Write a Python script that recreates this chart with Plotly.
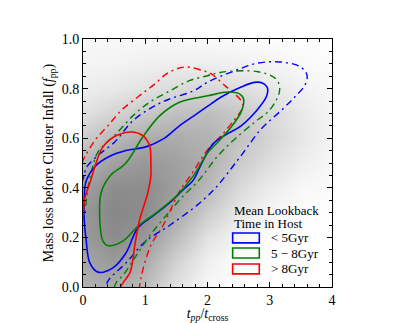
import plotly.graph_objects as go

# fond : densité en niveaux de gris (luminosité 0-255)
grid_x = [0, 0.5, 1.0, 1.5, 2.0, 2.5, 3.0, 3.5, 4.0]
grid_y = [0, 0.1, 0.2, 0.3, 0.4, 0.5, 0.6, 0.7, 0.8, 0.9, 1.0]
grid_gray = [
    [178, 170, 188, 226, 247, 254, 255, 255, 255],
    [165, 155, 170, 210, 240, 251, 254, 255, 255],
    [155, 140, 152, 188, 226, 245, 252, 254, 255],
    [152, 135, 140, 168, 205, 232, 246, 252, 254],
    [160, 140, 140, 158, 185, 218, 236, 247, 251],
    [180, 160, 152, 160, 175, 203, 222, 238, 248],
    [205, 185, 172, 172, 178, 194, 212, 231, 244],
    [225, 212, 200, 192, 190, 200, 216, 233, 245],
    [238, 232, 225, 218, 215, 220, 230, 241, 248],
    [244, 243, 240, 238, 238, 240, 244, 248, 252],
    [248, 248, 248, 249, 250, 251, 252, 253, 254],
]

# contours (solide = niveau interne, tiret-point = niveau externe)
# ceux qui sortent du cadre sont donnés comme chemins ouverts
blue_in_x = [0.05, 0.02, 0.02, 0.05, 0.11, 0.24, 0.48, 0.69, 0.88, 1.12, 1.39, 1.61, 1.77, 1.87, 1.97, 2.10,
             2.30, 2.54, 2.81, 2.95, 2.96, 2.88, 2.75, 2.54, 2.22, 2.01, 1.82, 1.55, 1.29, 1.01, 0.69, 0.43,
             0.21, 0.05]
blue_in_y = [0.427, 0.35, 0.27, 0.19, 0.097, 0.06, 0.077, 0.137, 0.238, 0.286, 0.339, 0.392, 0.43, 0.48, 0.53,
             0.58, 0.615, 0.65, 0.718, 0.77, 0.805, 0.823, 0.825, 0.806, 0.766, 0.73, 0.697, 0.65, 0.597,
             0.565, 0.55, 0.527, 0.49, 0.427]

green_in_x = [0.29, 0.27, 0.32, 0.40, 0.64, 0.88, 1.17, 1.50, 1.77, 1.90, 2.01, 2.17, 2.38, 2.54, 2.58, 2.52,
              2.33, 2.01, 1.55, 1.23, 0.96, 0.69, 0.43, 0.29]
green_in_y = [0.379, 0.271, 0.185, 0.167, 0.185, 0.245, 0.298, 0.367, 0.447, 0.50, 0.544, 0.585, 0.645, 0.706,
              0.758, 0.778, 0.786, 0.771, 0.745, 0.69, 0.605, 0.50, 0.447, 0.379]

red_in_x = [-0.02, 0.005, 0.03, 0.11, 0.21, 0.32, 0.53, 0.80, 0.96, 1.07, 1.09, 1.09, 1.04, 0.91, 0.83, 0.80,
            0.75, 0.61, 0.59]
red_in_y = [0.25, 0.298, 0.36, 0.419, 0.50, 0.565, 0.61, 0.625, 0.61, 0.57, 0.504, 0.447, 0.379, 0.271, 0.165,
            0.109, 0.056, 0.004, -0.02]

blue_out_x = [-0.02, 0.02, 0.05, 0.21, 0.51, 0.80, 1.12, 1.39, 1.77, 2.01, 2.44, 2.81, 3.18, 3.50, 3.60, 3.56,
              3.40, 3.18, 2.86, 2.54, 2.15, 2.00, 1.82, 1.40, 1.01, 0.69, 0.40, 0.34]
blue_out_y = [0.42, 0.45, 0.48, 0.524, 0.585, 0.67, 0.726, 0.758, 0.79, 0.827, 0.872, 0.903, 0.907, 0.887,
              0.852, 0.812, 0.766, 0.711, 0.637, 0.53, 0.405, 0.367, 0.327, 0.25, 0.185, 0.097, 0.024, -0.02]

green_out_x = [-0.02, 0.03, 0.08, 0.15, 0.24, 0.53, 0.80, 1.07, 1.39, 1.71, 2.00, 2.22, 2.81, 3.10, 3.16, 3.10,
               2.97, 2.76, 2.44, 2.17, 1.85, 1.61, 1.33, 1.08, 0.85, 0.67, 0.53, 0.48]
green_out_y = [0.26, 0.306, 0.40, 0.48, 0.544, 0.617, 0.69, 0.745, 0.79, 0.832, 0.852, 0.866, 0.868, 0.839,
               0.798, 0.751, 0.706, 0.665, 0.597, 0.53, 0.427, 0.367, 0.286, 0.21, 0.125, 0.056, 0.016, -0.02]

red_out_x = [-0.02, 0.053, 0.21, 0.40, 0.61, 0.88, 1.12, 1.39, 1.65, 1.93, 2.06, 2.28, 2.54, 2.57, 2.44, 2.22,
             2.01, 1.73, 1.56, 1.28, 1.09, 0.93, 0.90]
red_out_y = [0.50, 0.536, 0.597, 0.65, 0.711, 0.766, 0.812, 0.867, 0.887, 0.872, 0.859, 0.812, 0.751, 0.726,
             0.677, 0.61, 0.556, 0.45, 0.39, 0.245, 0.168, 0.036, -0.02]

legend_title = ['Mean Lookback', 'Time in Host']
groups = ['&lt; 5Gyr', '5 − 8Gyr', '&gt; 8Gyr']
colors = ['#0000ff', '#008000', '#ff0000']
inner = [(blue_in_x, blue_in_y), (green_in_x, green_in_y), (red_in_x, red_in_y)]
outer = [(blue_out_x, blue_out_y), (green_out_x, green_out_y), (red_out_x, red_out_y)]

FONT = "Liberation Serif"

fig = go.Figure()

fig.add_trace(go.Heatmap(
    x=grid_x, y=grid_y, z=grid_gray,
    zmin=0, zmax=255, zsmooth='best',
    colorscale=[[0, 'rgb(0,0,0)'], [1, 'rgb(255,255,255)']],
    showscale=False, hoverinfo='skip'
))

for (ox, oy), col in zip(outer, colors):
    fig.add_trace(go.Scatter(
        x=ox, y=oy, mode='lines',
        line=dict(color=col, width=1.4, dash='7px,4px,2px,4px', shape='spline', smoothing=1.0),
        showlegend=False
    ))

for (ix, iy), col in zip(inner, colors):
    fig.add_trace(go.Scatter(
        x=ix, y=iy, mode='lines',
        line=dict(color=col, width=1.6, shape='spline', smoothing=1.0),
        showlegend=False
    ))

# légende dessinée à la main (boîtes vides comme dans l'original)
annotations = []
for txt, yc in zip(legend_title, [0.307, 0.255]):
    annotations.append(dict(xref='paper', yref='paper', x=0.598, y=yc, xanchor='left', yanchor='middle',
                            text=txt, showarrow=False,
                            font=dict(family=FONT, size=13, color='black')))
shapes = []
box_y = [0.198, 0.137, 0.073]
for label, col, yc in zip(groups, colors, box_y):
    shapes.append(dict(type='rect', xref='paper', yref='paper',
                       x0=0.601, x1=0.708, y0=yc - 0.02, y1=yc + 0.02,
                       line=dict(color=col, width=1.6), fillcolor='rgba(0,0,0,0)'))
    annotations.append(dict(xref='paper', yref='paper', x=0.745, y=yc, xanchor='left', yanchor='middle',
                            text=label, showarrow=False,
                            font=dict(family=FONT, size=13, color='black')))

axis_style = dict(
    showline=True, linecolor='black', linewidth=1, mirror='ticks', automargin=False,
    ticks='inside', ticklen=5, tickcolor='black', showgrid=False, zeroline=False,
    tickfont=dict(family=FONT, size=14, color='black'),
)

# la page ajoute 8 px de marge au corps : on décale en conséquence
fig.update_layout(
    width=407, height=315,
    margin=dict(l=75, r=83, t=31, b=36),
    paper_bgcolor='white', plot_bgcolor='white',
    font=dict(family=FONT, size=14, color='black'),
    xaxis=dict(range=[0, 4], dtick=1, tick0=0,
               minor=dict(dtick=0.2, ticks='inside', ticklen=3, tickcolor='black'),
               title=dict(text='<i>t</i><sub><i>pp</i></sub>/<i>t</i><sub>cross</sub>',
                          font=dict(family=FONT, size=14), standoff=6),
               **axis_style),
    yaxis=dict(range=[0, 1], dtick=0.2, tick0=0, tickformat='.1f',
               minor=dict(dtick=0.05, ticks='inside', ticklen=3, tickcolor='black'),
               title=dict(text='Mass loss before Cluster Infall (<i>f</i><sub>pp</sub>)',
                          font=dict(family=FONT, size=14), standoff=4),
               **axis_style),
    annotations=annotations,
    shapes=shapes,
)

fig.write_html("out.html")
